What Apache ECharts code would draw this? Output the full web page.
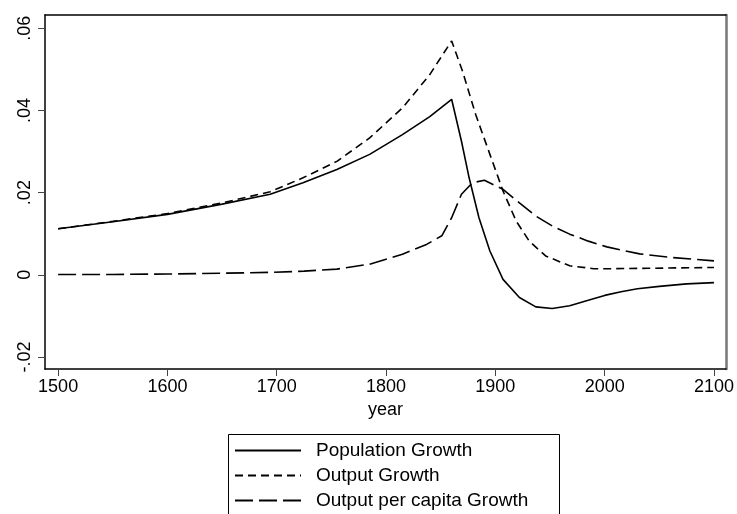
<!DOCTYPE html>
<html>
<head>
<meta charset="utf-8">
<script src="https://cdn.jsdelivr.net/npm/echarts@6/dist/echarts.min.js"></script>
<style>
  html, body { margin: 0; padding: 0; background: #fff; }
  #chart { width: 737px; height: 514px; }
</style>
</head>
<body>
<div id="chart"></div>
<script>
// year ticks and growth rate ticks
var yearTicks = [1500, 1600, 1700, 1800, 1900, 2000, 2100];
var rateTicks = [-0.02, 0, 0.02, 0.04, 0.06];

// [year, growth]
var popGrowth = [
  [1500, 0.0112], [1550, 0.0129], [1600, 0.0147], [1650, 0.0172], [1694, 0.0196],
  [1724, 0.0224], [1755, 0.0256], [1785, 0.0293], [1815, 0.0341], [1840, 0.0385],
  [1860, 0.0427], [1869, 0.0325], [1876, 0.0236], [1885, 0.0139], [1895, 0.0058],
  [1907, -0.0011], [1922, -0.0055], [1937, -0.0078], [1952, -0.0082], [1968, -0.0075],
  [1985, -0.0062], [2000, -0.0050], [2015, -0.0041], [2030, -0.0034], [2050, -0.0028],
  [2075, -0.0022], [2100, -0.0019]
];
var outGrowth = [
  [1500, 0.0112], [1550, 0.0130], [1600, 0.0149], [1650, 0.0175], [1694, 0.0202],
  [1724, 0.0236], [1755, 0.0276], [1785, 0.0333], [1815, 0.0406], [1840, 0.0487],
  [1860, 0.0569], [1870, 0.0495], [1882, 0.0390], [1895, 0.0293], [1907, 0.0204],
  [1919, 0.0131], [1931, 0.0082], [1946, 0.0046], [1968, 0.0022], [1990, 0.0015],
  [2010, 0.0015], [2040, 0.0016], [2070, 0.0017], [2100, 0.0018]
];
var pcGrowth = [
  [1500, 0.0001], [1550, 0.0001], [1600, 0.0002], [1650, 0.0004], [1694, 0.0006],
  [1725, 0.0009], [1755, 0.0014], [1785, 0.0026], [1815, 0.0050], [1837, 0.0074],
  [1851, 0.0095], [1860, 0.0139], [1869, 0.0196], [1879, 0.0224], [1890, 0.0230],
  [1907, 0.0208], [1922, 0.0175], [1937, 0.0143], [1952, 0.0119], [1968, 0.0099],
  [1985, 0.0082], [2002, 0.0068], [2032, 0.0051], [2062, 0.0042], [2100, 0.0034]
];

var font = 'Liberation Sans, Arial, sans-serif';

function rateLabel(v) {
  if (v === 0) return '0';
  return (v < 0 ? '-' : '') + Math.abs(v).toFixed(2).replace(/^0/, '');
}

var myChart = echarts.init(document.getElementById('chart'));
myChart.setOption({
  animation: false,
  grid: { left: 45, top: 15, right: 10, bottom: 145 },
  // legend frame runs off the bottom of the page, as in the original
  graphic: [{
    type: 'rect',
    left: 226,
    top: 432,
    shape: { width: 331, height: 120 },
    style: { fill: 'none', stroke: '#000', lineWidth: 1 }
  }],
  legend: {
    orient: 'vertical',
    left: 226,
    top: 432,
    padding: [9, 34, 0, 8],
    itemWidth: 66,
    itemHeight: 15,
    itemGap: 6,
    itemStyle: { opacity: 0 },
    textStyle: { fontFamily: font, fontSize: 19, color: '#000', padding: [0, 0, 0, 10] },
    data: ['Population Growth', 'Output Growth', 'Output per capita Growth']
  },
  xAxis: [{
    type: 'value',
    min: 1488,
    max: 2111,
    name: 'year',
    nameLocation: 'middle',
    nameGap: 26,
    nameTextStyle: { fontFamily: font, fontSize: 18, color: '#000' },
    axisLine: { onZero: false, lineStyle: { color: '#000', width: 1.5 } },
    axisTick: { length: 7, customValues: yearTicks, lineStyle: { color: '#444' } },
    axisLabel: {
      customValues: yearTicks, margin: 9,
      fontFamily: font, fontSize: 18, color: '#000',
      formatter: function (v) { return String(v); }
    },
    splitLine: { show: false }
  }, {
    type: 'value',
    position: 'top',
    min: 1488,
    max: 2111,
    axisLine: { onZero: false, lineStyle: { color: '#000', width: 1.5 } },
    axisTick: { show: false },
    axisLabel: { show: false },
    splitLine: { show: false }
  }],
  yAxis: [{
    type: 'value',
    min: -0.0229,
    max: 0.0632,
    axisLine: { show: true, onZero: false, lineStyle: { color: '#000', width: 1.5 } },
    axisTick: { show: true, length: 7, customValues: rateTicks, lineStyle: { color: '#444' } },
    axisLabel: {
      customValues: rateTicks,
      rotate: 90,
      margin: 11,
      fontFamily: font, fontSize: 18, color: '#000',
      formatter: rateLabel
    },
    splitLine: { show: false }
  }, {
    type: 'value',
    position: 'right',
    min: -0.0229,
    max: 0.0632,
    axisLine: { show: true, onZero: false, lineStyle: { color: '#777', width: 2.5 } },
    axisTick: { show: false },
    axisLabel: { show: false },
    splitLine: { show: false }
  }],
  series: [{
    name: 'Population Growth',
    type: 'line',
    symbol: 'none',
    data: popGrowth,
    lineStyle: { color: '#000', width: 1.6, type: 'solid' },
    itemStyle: { color: '#000' }
  }, {
    name: 'Output Growth',
    type: 'line',
    symbol: 'none',
    data: outGrowth,
    lineStyle: { color: '#000', width: 1.6, type: [8, 5] },
    itemStyle: { color: '#000' }
  }, {
    name: 'Output per capita Growth',
    type: 'line',
    symbol: 'none',
    data: pcGrowth,
    lineStyle: { color: '#000', width: 1.6, type: [18, 6] },
    itemStyle: { color: '#000' }
  }]
});
</script>
</body>
</html>
